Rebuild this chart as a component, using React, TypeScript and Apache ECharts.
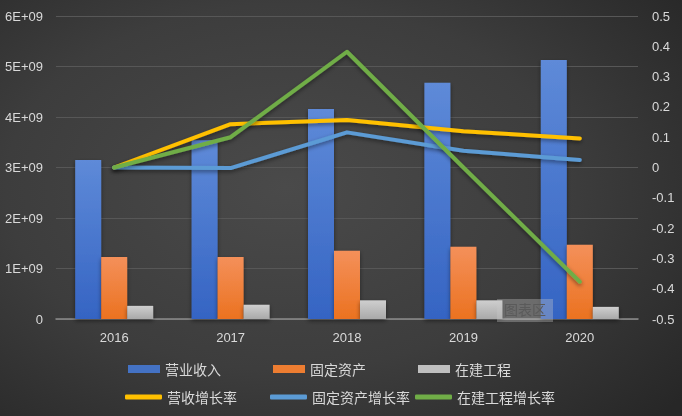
import React, { useEffect, useRef } from "react";
import * as echarts from "echarts";

const years = ["2016", "2017", "2018", "2019", "2020"];
const revenue = [3.15e9, 3.54e9, 4.16e9, 4.68e9, 5.13e9];
const fixedAssets = [1.23e9, 1.23e9, 1.35e9, 1.43e9, 1.47e9];
const construction = [0.26e9, 0.28e9, 0.37e9, 0.37e9, 0.24e9];
const revenueGrowth = [0, 0.143, 0.157, 0.12, 0.096];
const fixedAssetsGrowth = [0, -0.002, 0.116, 0.055, 0.025];
const constructionGrowth = [0, 0.1, 0.382, 0.0, -0.377];

const FONT = "'Liberation Sans', 'Noto Sans CJK SC', sans-serif";
const CJK = "'Noto Sans CJK SC', sans-serif";
const TXT = "#d9d9d9";

function vgrad(top: string, bottom: string) {
  return new echarts.graphic.LinearGradient(0, 0, 0, 1, [
    { offset: 0, color: top },
    { offset: 1, color: bottom },
  ]);
}

export default function App() {
  const ref = useRef<HTMLDivElement>(null);
  useEffect(() => {
    if (!ref.current) return;
    const chart = echarts.init(ref.current, undefined, { renderer: "svg" });
    const shadow = { shadowBlur: 4, shadowColor: "rgba(0,0,0,0.45)", shadowOffsetY: 2 };
    const barLegend = (name: string, left: number, color: any) => ({
      data: [name],
      left,
      top: 362,
      padding: 0,
      icon: "rect",
      itemWidth: 32,
      itemHeight: 8,
      itemGap: 0,
      textStyle: { color: TXT, fontSize: 14, fontFamily: CJK },
      itemStyle: { color },
    });
    const lineLegend = (name: string, left: number, color: string) => ({
      data: [name],
      left,
      top: 390,
      padding: 0,
      icon: "roundRect",
      itemWidth: 37,
      itemHeight: 5,
      itemGap: 0,
      textStyle: { color: TXT, fontSize: 14, fontFamily: CJK },
      itemStyle: { color },
      lineStyle: { width: 0 },
    });
    chart.setOption({
      animation: false,
      backgroundColor: "transparent",
      grid: { left: 56, right: 44, top: 16, bottom: 97 },
      legend: [
        barLegend("营业收入", 128, "#4472c4"),
        barLegend("固定资产", 273, "#ed7d31"),
        barLegend("在建工程", 418, "#bfbfbf"),
        lineLegend("营收增长率", 125, "#ffc000"),
        lineLegend("固定资产增长率", 270, "#5b9bd5"),
        lineLegend("在建工程增长率", 415, "#70ad47"),
      ],
      xAxis: {
        type: "category",
        data: years,
        boundaryGap: true,
        axisLine: { lineStyle: { color: "#8c8c8c", width: 1.5 } },
        axisTick: { show: false },
        axisLabel: { color: TXT, fontSize: 13, fontFamily: FONT, margin: 12 },
      },
      yAxis: [
        {
          type: "value",
          min: 0,
          max: 6e9,
          interval: 1e9,
          axisLine: { show: false },
          axisTick: { show: false },
          splitLine: { lineStyle: { color: "#575757", width: 1 } },
          axisLabel: {
            color: TXT,
            fontSize: 13,
            fontFamily: FONT,
            margin: 13,
            formatter: (v: number) => (v === 0 ? "0" : Math.round(v / 1e9) + "E+09"),
          },
        },
        {
          type: "value",
          min: -0.5,
          max: 0.5,
          interval: 0.1,
          axisLine: { show: false },
          axisTick: { show: false },
          splitLine: { show: false },
          axisLabel: {
            color: TXT,
            fontSize: 13,
            fontFamily: FONT,
            margin: 14,
            formatter: (v: number) => String(Math.round(v * 10) / 10),
          },
        },
      ],
      series: [
        {
          name: "营业收入",
          type: "bar",
          data: revenue,
          barGap: "0%",
          barCategoryGap: "33%",
          itemStyle: { color: vgrad("#5e8ad8", "#3564c3"), ...shadow },
        },
        {
          name: "固定资产",
          type: "bar",
          data: fixedAssets,
          barGap: "0%",
          barCategoryGap: "33%",
          itemStyle: { color: vgrad("#f4905a", "#eb7220"), ...shadow },
        },
        {
          name: "在建工程",
          type: "bar",
          data: construction,
          barGap: "0%",
          barCategoryGap: "33%",
          itemStyle: { color: vgrad("#cfcfcf", "#a9a9a9"), ...shadow },
        },
        {
          name: "营收增长率",
          type: "line",
          yAxisIndex: 1,
          data: revenueGrowth,
          symbol: "none",
          lineStyle: { color: "#ffc000", width: 4, cap: "round", join: "round", ...shadow },
          itemStyle: { color: "#ffc000" },
        },
        {
          name: "固定资产增长率",
          type: "line",
          yAxisIndex: 1,
          data: fixedAssetsGrowth,
          symbol: "none",
          lineStyle: { color: "#5b9bd5", width: 4, cap: "round", join: "round", ...shadow },
          itemStyle: { color: "#5b9bd5" },
        },
        {
          name: "在建工程增长率",
          type: "line",
          yAxisIndex: 1,
          data: constructionGrowth,
          symbol: "none",
          lineStyle: { color: "#70ad47", width: 4, cap: "round", join: "round", ...shadow },
          itemStyle: { color: "#70ad47" },
        },
      ],
      graphic: [
        {
          type: "rect",
          left: 497,
          top: 299,
          shape: { width: 56, height: 23 },
          style: { fill: "rgba(200,200,200,0.35)" },
          z: 100,
        },
        {
          type: "text",
          left: 504,
          top: 302,
          style: { text: "图表区", fill: "#5a5a5a", fontSize: 14, fontFamily: CJK },
          z: 101,
        },
      ],
    });
    return () => chart.dispose();
  }, []);
  return (
    <div
      ref={ref}
      style={{
        position: "fixed",
        left: 0,
        top: 0,
        width: 682,
        height: 416,
        background:
          "radial-gradient(ellipse 75% 80% at 42% 45%, #4a4a4a 0%, #3d3d3d 55%, #272727 100%)",
      }}
    />
  );
}
